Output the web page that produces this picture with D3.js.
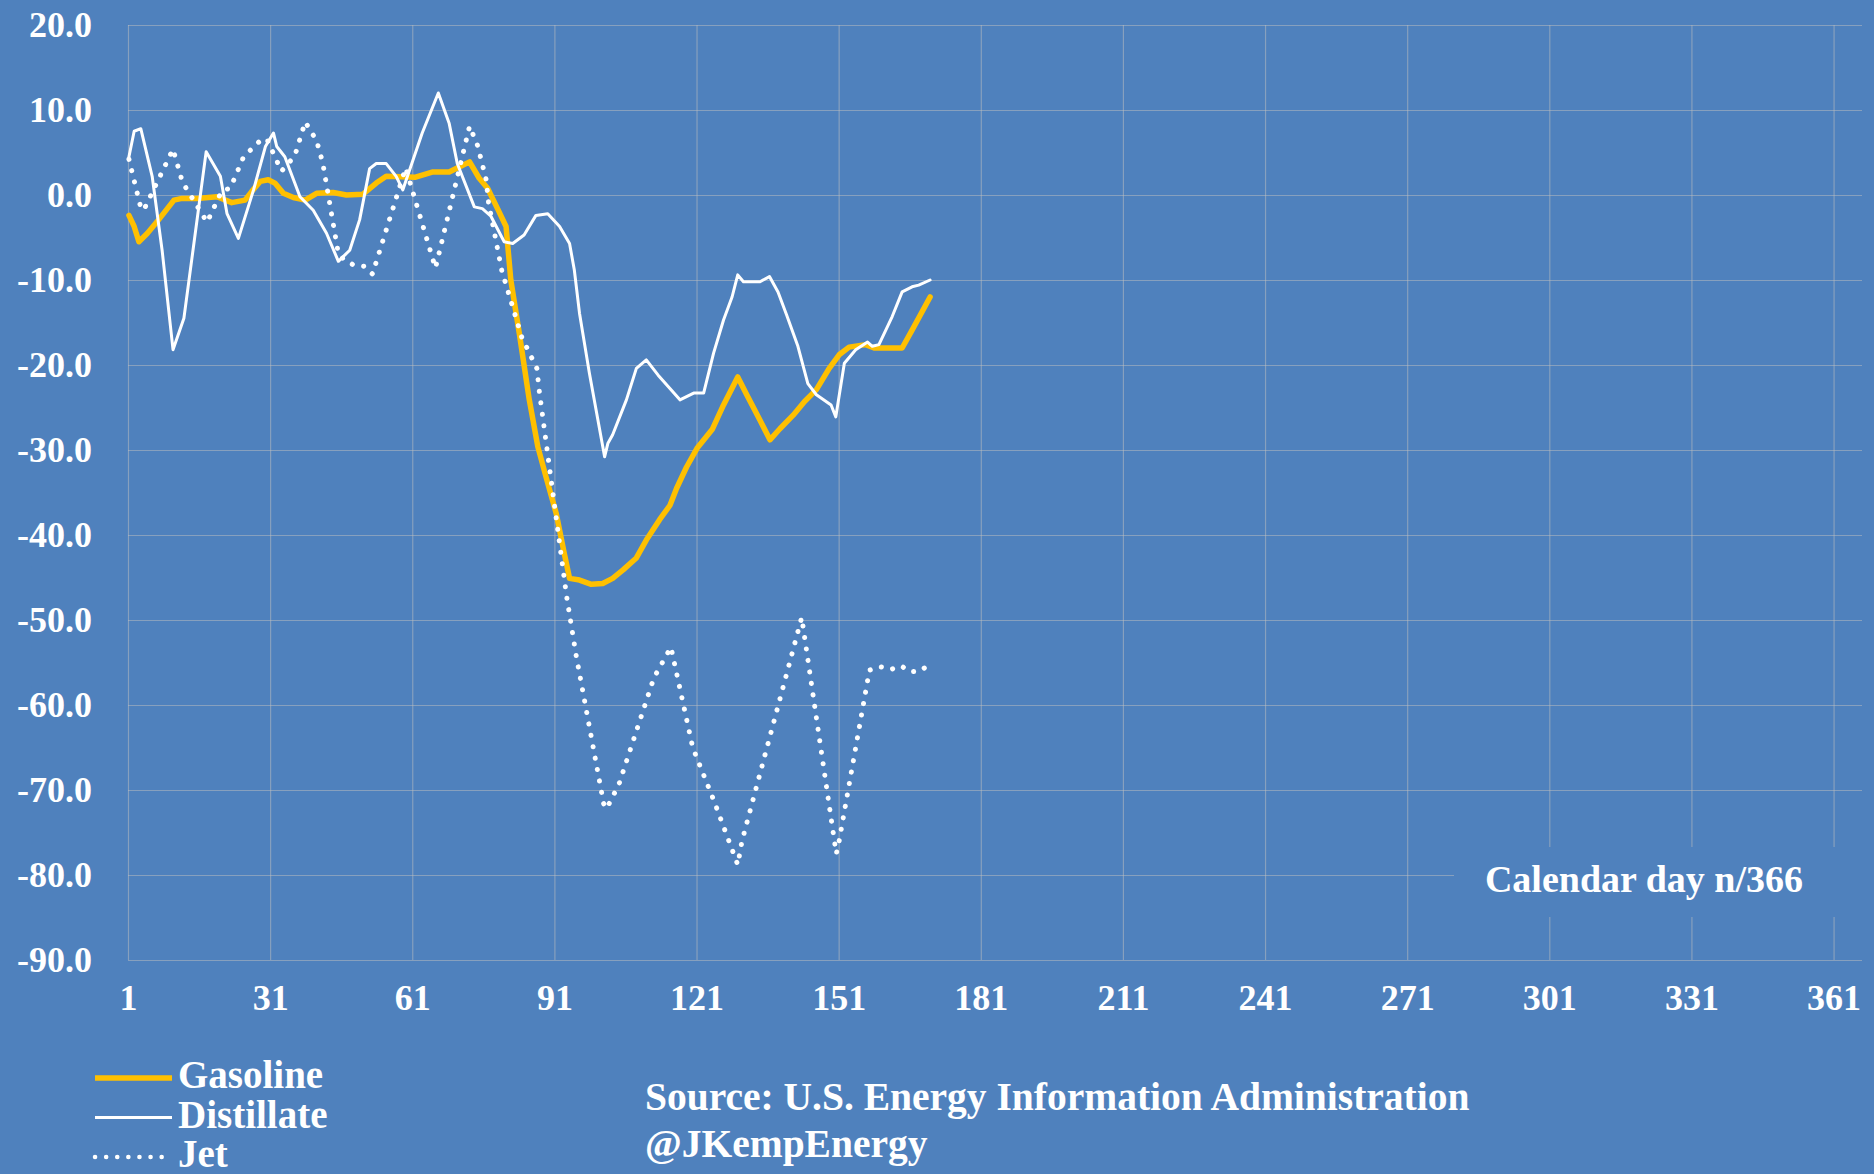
<!DOCTYPE html>
<html>
<head>
<meta charset="utf-8">
<script src="https://cdn.jsdelivr.net/npm/d3@7/dist/d3.min.js"></script>
<style>
  html, body { margin: 0; padding: 0; background: #4F81BD; overflow: hidden; }
  svg { display: block; }
  text { font-family: 'Liberation Serif', 'Times New Roman', serif; font-weight: bold; fill: #ffffff; }
</style>
</head>
<body>
<div id="chart"></div>
<script>
// tick labels
const yTicks = [20, 10, 0, -10, -20, -30, -40, -50, -60, -70, -80, -90];
const xTicks = [1, 31, 61, 91, 121, 151, 181, 211, 241, 271, 301, 331, 361];

// Gasoline (calendar day, % change)
const gasolineDays = [1.2, 2.3, 3.3, 5.1, 7.2, 10.7, 12.4, 15.6, 19.8, 22.9, 25.7, 27.1, 28.9, 30.6, 32, 33.8, 35.9, 38.4, 40.8, 44.3, 47.1, 50.6, 53.4, 55.5, 61.7, 65.2, 68.8, 70.9, 73.1, 75.1, 76.9, 79, 80.8, 81.8, 83.6, 85.7, 87.5, 89.2, 91.4, 93.1, 94.2, 96.3, 98.8, 101.2, 103.3, 105.5, 108.3, 110.4, 113.2, 115.4, 116.8, 118.9, 121.1, 124.3, 126.7, 129.7, 131.6, 134.4, 136.5, 138.6, 141.4, 143.8, 146.3, 149, 151.1, 153.2, 156.7, 158.5, 164.4, 166.5, 170.3];
const gasolineValues = [-2.4, -3.7, -5.5, -4.5, -3.1, -0.6, -0.4, -0.4, -0.2, -0.9, -0.6, 0.4, 1.6, 1.8, 1.4, 0.2, -0.3, -0.6, 0.2, 0.3, 0, 0.1, 1.4, 2.2, 2.1, 2.7, 2.7, 3.3, 3.9, 2.0, 0.8, -1.6, -3.7, -10, -16.3, -24.1, -29.6, -33.1, -37.5, -42.2, -45.1, -45.3, -45.8, -45.7, -45.1, -44.1, -42.7, -40.6, -38.2, -36.5, -34.5, -32, -29.8, -27.6, -24.7, -21.4, -23.5, -26.5, -28.8, -27.5, -25.9, -24.3, -22.9, -20.4, -18.8, -17.9, -17.6, -18, -18, -15.9, -12];

// Distillate
const distillateDays = [1.2, 2.3, 3.7, 6.1, 8.2, 10.5, 12.8, 17.5, 20.5, 21.9, 24.3, 27.5, 30, 31.7, 32.4, 34.1, 37.3, 40.1, 42.9, 45.4, 47.8, 49.9, 52, 53.4, 55.5, 57.6, 59, 63.1, 66.5, 68.8, 70.5, 74.1, 75.8, 77.6, 80.4, 82.2, 84.6, 87.1, 89.6, 92.1, 94.2, 95.2, 96.3, 98.4, 101.6, 102.3, 103.3, 106.2, 108.3, 110.4, 112.9, 117.5, 120.4, 122.5, 124.6, 126.7, 128.5, 129.7, 130.9, 134.4, 136.4, 138.2, 140, 142.4, 144.5, 146.3, 149.4, 150.4, 152.2, 154.6, 157.1, 158.1, 159.5, 162.3, 164.4, 166.5, 167.9, 170.3];
const distillateValues = [4.5, 7.5, 7.8, 2.2, -6.5, -18.2, -14.5, 5.1, 2.2, -2.2, -5.1, 0.6, 5.7, 7.3, 5.7, 4.5, -0.2, -1.8, -4.5, -7.8, -6.5, -2.9, 3.1, 3.7, 3.7, 2.2, 0.6, 7.3, 12.0, 8.4, 3.7, -1.4, -1.6, -2.5, -5.5, -5.7, -4.7, -2.4, -2.2, -3.7, -5.7, -8.8, -13.9, -21, -30.8, -29.2, -28.2, -24.1, -20.4, -19.4, -21.2, -24.1, -23.3, -23.3, -18.6, -14.7, -12, -9.4, -10.2, -10.2, -9.6, -11.4, -14.1, -17.8, -22.2, -23.5, -24.7, -26.1, -19.8, -18.2, -17.3, -17.8, -17.6, -14.3, -11.4, -10.8, -10.6, -10.0];

// Jet fuel
const jetDays = [1.2, 3.7, 4.3, 10.5, 12.5, 17.7, 20.8, 22.6, 25.4, 28.9, 30.3, 33.4, 36.2, 38.4, 40.8, 42.1, 45.4, 46.4, 48.5, 51, 52.6, 59.6, 65.9, 73.1, 74.8, 76.6, 77.1, 79.9, 84.1, 87.3, 87.8, 93.6, 95.6, 101.4, 102.1, 103.1, 104.4, 112, 115.6, 120.2, 124.7, 129.7, 130.6, 143.2, 150.5, 151.1, 157.5, 159.8, 162.1, 164.2, 166.2, 168.2, 170.2];
const jetValues = [4.2, -1.5, -1.8, 5.4, 1.5, -3.2, 0.5, 0.8, 4.5, 6.4, 6.6, 2.8, 4.6, 8.6, 6.4, 3.8, -6.9, -7.5, -8.2, -8.4, -9.3, 3.2, -8.6, 8.1, 5.8, 1.8, -0.9, -8.9, -16.7, -20.4, -23, -47.3, -54.2, -71.6, -72.2, -70.9, -69.7, -56.8, -53.2, -65, -71.3, -78.8, -76, -49.7, -77.5, -76, -55.9, -55.5, -55.8, -55.4, -56.1, -56, -55.2];

const width = 1874;
const height = 1174;
const bg = '#4F81BD';

const svg = d3.select('#chart').append('svg')
    .attr('width', width)
    .attr('height', height);

svg.append('rect').attr('width', width).attr('height', height).attr('fill', bg);

const x = d3.scaleLinear().domain([1, 367]).range([128, 1862]);
const y = d3.scaleLinear().domain([-90, 20]).range([960, 25]);

// horizontal gridlines + y labels
const yAxis = svg.append('g')
    .attr('transform', `translate(${x(1)},0)`)
    .call(d3.axisLeft(y)
        .tickValues(yTicks)
        .tickSize(-(x(367) - x(1)))
        .tickPadding(36)
        .tickFormat((d) => d.toFixed(1)));

// vertical gridlines + x labels
const xAxis = svg.append('g')
    .attr('transform', `translate(0,${y(-90)})`)
    .call(d3.axisBottom(x)
        .tickValues(xTicks)
        .tickSize(-(y(-90) - y(20)))
        .tickPadding(24)
        .tickFormat((d) => d));

[yAxis, xAxis].forEach((g) => {
    g.select('.domain').remove();
    g.selectAll('line').attr('stroke', '#BFBFBF').attr('stroke-opacity', 0.5).attr('stroke-width', 1.2);
    g.selectAll('text').attr('font-size', 36).attr('fill', '#fff')
        .style('font-family', "'Liberation Serif', serif").style('font-weight', 'bold');
});

// series
const series = [
    { name: 'Gasoline', days: gasolineDays, values: gasolineValues, color: '#FFC000', width: 5.5, dash: null },
    { name: 'Distillate', days: distillateDays, values: distillateValues, color: '#FFFFFF', width: 3, dash: null },
    { name: 'Jet', days: jetDays, values: jetValues, color: '#FFFFFF', width: 5, dash: '0.1 11.5' }
];

const line = d3.line()
    .x((d) => x(d[0]))
    .y((d) => y(d[1]));

series.forEach((s) => {
    const pts = s.days.map((d, i) => [d, s.values[i]]);
    svg.append('path')
        .datum(pts)
        .attr('d', line)
        .attr('fill', 'none')
        .attr('stroke', s.color)
        .attr('stroke-width', s.width)
        .attr('stroke-linejoin', 'round')
        .attr('stroke-linecap', 'round')
        .attr('stroke-dasharray', s.dash);
});

// axis title box sits over the gridlines
svg.append('rect')
    .attr('x', 1454).attr('y', 847)
    .attr('width', width - 1454).attr('height', 70)
    .attr('fill', bg);
svg.append('text')
    .attr('x', 1644).attr('y', 892)
    .attr('text-anchor', 'middle')
    .attr('font-size', 38)
    .text('Calendar day n/366');

// legend
const legend = svg.append('g');
series.forEach((s, i) => {
    const ly = 1078 + i * 39.5;
    legend.append('line')
        .attr('x1', 95).attr('x2', 172)
        .attr('y1', ly).attr('y2', ly)
        .attr('stroke', s.color)
        .attr('stroke-width', s.dash ? 4.5 : (s.width > 4 ? 5.5 : 3.2))
        .attr('stroke-linecap', s.dash ? 'round' : 'butt')
        .attr('stroke-dasharray', s.dash ? '0.1 11' : null);
    legend.append('text')
        .attr('x', 178).attr('y', ly + 10)
        .attr('font-size', 39)
        .text(s.name);
});

// source note
svg.append('text')
    .attr('x', 645).attr('y', 1110)
    .attr('font-size', 39.5)
    .text('Source: U.S. Energy Information Administration');
svg.append('text')
    .attr('x', 645).attr('y', 1157)
    .attr('font-size', 39.5)
    .text('@JKempEnergy');
</script>
</body>
</html>
